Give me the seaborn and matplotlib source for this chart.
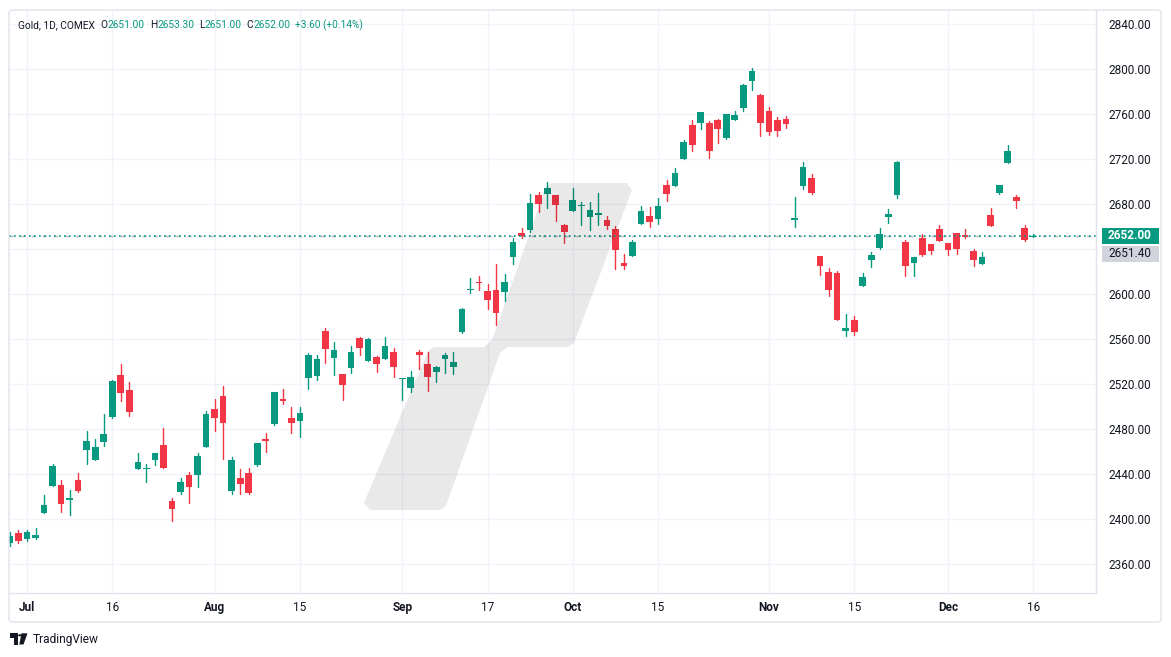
import matplotlib
matplotlib.use("Agg")
import matplotlib.pyplot as plt
import seaborn as sns
import pandas as pd
import numpy as np
from matplotlib.patches import Polygon, Rectangle, FancyBboxPatch, Circle

# ---------------- data ----------------
opens = [2378.9, 2387.8, 2382.5, 2383.4, 2405.9, 2429.9, 2430.5, 2417.4, 2434.9, 2461.9,
         2453.0, 2469.0, 2491.2, 2528.3, 2514.9, 2445.0, 2444.5, 2453.0, 2466.0, 2416.3,
         2424.3, 2439.4, 2439.6, 2464.5, 2498.0, 2509.6, 2425.4, 2436.7, 2441.2, 2448.3,
         2471.4, 2485.0, 2506.9, 2490.0, 2487.6, 2525.9, 2527.6, 2567.4, 2543.6, 2529.2,
         2534.8, 2561.2, 2541.0, 2544.3, 2542.8, 2548.7, 2524.7, 2517.0, 2548.4, 2538.0,
         2531.2, 2542.8, 2535.6, 2566.8, 2604.0, 2610.5, 2602.9, 2603.8, 2602.3, 2633.4,
         2654.5, 2657.2, 2688.3, 2689.4, 2688.3, 2661.6, 2674.3, 2678.2, 2669.0, 2670.8,
         2666.0, 2658.0, 2627.8, 2634.3, 2662.8, 2669.6, 2667.2, 2697.2, 2696.6, 2720.5,
         2750.5, 2752.5, 2752.3, 2754.9, 2739.2, 2755.2, 2765.9, 2789.6, 2777.4, 2762.9,
         2754.9, 2755.8, 2666.3, 2696.5, 2703.4, 2634.0, 2619.8, 2618.9, 2567.6, 2577.2,
         2607.6, 2630.8, 2641.4, 2669.0, 2688.5, 2646.5, 2628.1, 2650.0, 2644.4, 2658.0,
         2645.6, 2654.5, 2652.7, 2638.5, 2627.2, 2670.5, 2690.3, 2717.0, 2686.5, 2658.9,
         2651.0]
highs = [2388.7, 2390.5, 2390.5, 2392.3, 2421.6, 2449.2, 2434.9, 2426.0, 2441.2, 2478.5,
         2471.4, 2493.6, 2523.8, 2538.0, 2521.8, 2458.9, 2449.2, 2458.9, 2481.2, 2419.2,
         2437.0, 2442.0, 2458.9, 2496.3, 2506.9, 2518.5, 2455.4, 2444.7, 2445.6, 2467.8,
         2476.7, 2513.2, 2515.8, 2499.8, 2499.8, 2547.8, 2546.0, 2570.0, 2557.6, 2529.2,
         2554.0, 2562.0, 2561.2, 2545.2, 2562.0, 2552.3, 2525.6, 2531.8, 2550.5, 2548.4,
         2536.3, 2547.8, 2548.7, 2587.8, 2614.5, 2616.3, 2609.2, 2626.9, 2618.0, 2650.3,
         2658.9, 2689.2, 2691.0, 2699.8, 2688.3, 2662.5, 2694.5, 2682.0, 2682.0, 2690.1,
         2669.6, 2660.7, 2636.1, 2648.3, 2678.8, 2677.9, 2685.9, 2701.6, 2712.3, 2737.2,
         2754.9, 2762.0, 2754.0, 2755.8, 2760.3, 2762.9, 2786.9, 2801.2, 2778.3, 2766.5,
         2757.6, 2758.5, 2686.5, 2717.6, 2706.9, 2634.0, 2623.4, 2620.7, 2582.5, 2581.0,
         2618.9, 2637.6, 2658.9, 2675.8, 2718.5, 2648.3, 2633.2, 2653.6, 2644.4, 2661.6,
         2645.6, 2654.5, 2658.0, 2640.5, 2637.6, 2676.7, 2697.2, 2732.7, 2688.3, 2661.6,
         2653.3]
lows = [2376.0, 2378.9, 2380.7, 2382.5, 2405.9, 2429.9, 2406.5, 2404.1, 2424.5, 2449.4,
        2453.0, 2465.4, 2490.3, 2505.4, 2492.1, 2445.0, 2433.4, 2448.5, 2445.9, 2398.8,
        2422.8, 2414.8, 2429.0, 2464.5, 2478.8, 2453.9, 2422.8, 2422.8, 2422.8, 2447.4,
        2460.1, 2483.8, 2502.5, 2477.0, 2473.4, 2516.1, 2524.1, 2539.2, 2528.5, 2506.3,
        2530.3, 2546.3, 2541.0, 2531.2, 2542.8, 2526.8, 2506.0, 2513.4, 2533.9, 2514.3,
        2522.3, 2530.3, 2529.4, 2565.9, 2601.4, 2604.1, 2587.2, 2573.0, 2594.3, 2627.2,
        2650.3, 2655.4, 2673.4, 2677.0, 2665.4, 2645.9, 2674.3, 2661.9, 2657.2, 2661.9,
        2658.0, 2622.8, 2622.8, 2634.3, 2662.8, 2660.1, 2662.8, 2683.2, 2696.6, 2720.5,
        2727.6, 2747.2, 2721.4, 2734.7, 2737.8, 2755.2, 2763.2, 2781.6, 2741.0, 2741.6,
        2740.7, 2747.8, 2660.1, 2693.9, 2689.4, 2617.4, 2598.8, 2577.4, 2563.2, 2564.1,
        2607.6, 2624.5, 2640.5, 2663.6, 2685.9, 2616.5, 2616.5, 2634.3, 2636.1, 2647.6,
        2635.2, 2636.1, 2650.3, 2625.4, 2627.2, 2661.0, 2689.4, 2717.0, 2677.0, 2647.6,
        2651.0]
closes = [2385.2, 2380.7, 2388.7, 2386.0, 2412.7, 2447.4, 2413.9, 2418.9, 2425.4, 2469.6,
          2464.3, 2475.8, 2522.9, 2512.0, 2495.6, 2450.9, 2445.5, 2458.9, 2445.9, 2409.4,
          2433.2, 2429.0, 2456.3, 2493.6, 2490.3, 2485.9, 2452.7, 2431.6, 2423.6, 2467.8,
          2469.9, 2513.2, 2504.9, 2485.9, 2494.5, 2546.0, 2542.5, 2551.6, 2550.5, 2519.6,
          2548.7, 2552.5, 2560.3, 2538.3, 2554.0, 2535.6, 2525.6, 2526.5, 2546.3, 2526.2,
          2535.4, 2546.0, 2539.8, 2586.9, 2605.0, 2609.8, 2595.2, 2583.6, 2610.9, 2646.5,
          2652.1, 2681.2, 2680.5, 2694.5, 2679.6, 2655.6, 2683.8, 2679.4, 2674.9, 2672.3,
          2661.0, 2639.6, 2625.4, 2646.5, 2674.0, 2664.5, 2678.5, 2689.4, 2707.8, 2735.4,
          2733.0, 2762.0, 2727.6, 2747.2, 2760.3, 2759.4, 2786.0, 2798.5, 2752.5, 2744.5,
          2745.2, 2751.4, 2667.8, 2713.2, 2690.3, 2625.4, 2604.1, 2577.4, 2570.0, 2566.8,
          2615.4, 2634.9, 2653.6, 2671.4, 2717.6, 2625.4, 2633.2, 2635.2, 2638.8, 2647.6,
          2639.6, 2640.5, 2651.0, 2630.8, 2633.2, 2661.0, 2697.2, 2727.4, 2683.2, 2648.4,
          2652.0]

first_day, last_day = "2024-06-27", "2024-12-16"
holidays = ["2024-07-04", "2024-09-02"]
tick_dates = ["2024-07-01", "2024-07-16", "2024-08-01", "2024-08-15", "2024-09-03", "2024-09-17",
              "2024-10-01", "2024-10-15", "2024-11-01", "2024-11-15", "2024-12-02", "2024-12-16"]
tick_labels = ["Jul", "16", "Aug", "15", "Sep", "17", "Oct", "15", "Nov", "15", "Dec", "16"]
month_labels = {"Jul", "Aug", "Sep", "Oct", "Nov", "Dec"}
y_ticks = [2360, 2400, 2440, 2480, 2520, 2560, 2600, 2640, 2680, 2720, 2760, 2800, 2840]
hidden_y_ticks = [2640]
last_price = 2652.00
ref_price = 2651.40
header_name = "Gold, 1D, COMEX"
header_ohlc = [("O", "2651.00"), ("H", "2653.30"), ("L", "2651.00"), ("C", "2652.00")]
header_change = "+3.60 (+0.14%)"

# ---------------- style ----------------
UP, DOWN = "#089981", "#F23645"
TXT = "#131722"
GRID = "#f0f3fa"
BORDER = "#e0e3eb"
W, H = 1171, 657

sns.set_theme(style="white")
plt.rcParams["font.family"] = ["Roboto", "DejaVu Sans"]

dates = pd.bdate_range(first_day, last_day)
dates = dates[~dates.isin(pd.to_datetime(holidays))]
df = pd.DataFrame({"date": dates, "open": opens, "high": highs, "low": lows, "close": closes})
df["i"] = np.arange(len(df))
df["dir"] = np.where(df["close"] >= df["open"], "up", "down")

fig = plt.figure(figsize=(W / 100, H / 100), dpi=100)
fig.patch.set_facecolor("white")

def fx(x):
    return x / W

def fy(y):
    return 1 - y / H

ax_l, ax_r, ax_t, ax_b = 9, 1096, 10, 593
ax = fig.add_axes([fx(ax_l), fy(ax_b), (ax_r - ax_l) / W, (ax_b - ax_t) / H])
ax.set_facecolor("white")

# y scale: 2400 at pixel 519.3, 1.125 px per unit
def price_at(ypix):
    return 2400 + (519.3 - ypix) / 1.125

ax.set_ylim(price_at(ax_b), price_at(ax_t))
# x scale: bar 0 at pixel 9.94, 8.528 px per bar
x0, dx = 9.94, 8.528
ax.set_xlim((ax_l - x0) / dx, (ax_r - x0) / dx)

# grid
tick_idx = [int(np.where(df["date"] == pd.Timestamp(d))[0][0]) for d in tick_dates]
for t in tick_idx:
    ax.axvline(t, color=GRID, lw=1, zorder=0)
for yv in y_ticks:
    ax.axhline(yv, color=GRID, lw=1, zorder=0)

# wicks via seaborn
wick = pd.concat([df[["i", "dir"]].assign(price=df["low"]),
                  df[["i", "dir"]].assign(price=df["high"])]).sort_values("i")
sns.lineplot(data=wick, x="i", y="price", units="i", estimator=None, hue="dir",
             palette={"up": UP, "down": DOWN}, linewidth=1.0, legend=False, ax=ax, zorder=2)

# bodies
min_h = 1.0 / 1.125
body_bottom = np.minimum(df["open"], df["close"])
body_h = np.maximum(np.abs(df["close"] - df["open"]), min_h)
ax.bar(df["i"], body_h, bottom=body_bottom, width=0.78,
       color=[UP if d == "up" else DOWN for d in df["dir"]], linewidth=0, zorder=3)

# price lines
ax.axhline(ref_price, color="#b2b5be", lw=1, ls=(0, (3, 5)), zorder=1)
ax.axhline(last_price, color=UP, lw=1.2, ls=(0, (1, 2)), zorder=4)

# axes styling
ax.yaxis.tick_right()
ax.set_yticks(y_ticks)
ax.set_yticklabels(["" if v in hidden_y_ticks else f"{v:.2f}" for v in y_ticks],
                   fontsize=8.5, color=TXT)
ax.set_xticks(tick_idx)
ax.set_xticklabels(tick_labels, fontsize=8.5, color=TXT)
for lab in ax.get_xticklabels():
    if lab.get_text() in month_labels:
        lab.set_fontweight("bold")
ax.tick_params(axis="y", length=0, pad=9)
ax.tick_params(axis="x", length=0, pad=6)
ax.set_xlabel("")
ax.set_ylabel("")
for s in ["left", "top"]:
    ax.spines[s].set_visible(False)
for s in ["right", "bottom"]:
    ax.spines[s].set_color(BORDER)
    ax.spines[s].set_linewidth(1)

# outer frame
fig.patches.append(FancyBboxPatch((fx(9), fy(622)), fx(1161) - fx(9), fy(10) - fy(622),
                                  boxstyle="round,pad=0,rounding_size=0.004",
                                  transform=fig.transFigure, fill=False,
                                  edgecolor=BORDER, lw=1, zorder=0))

# watermark (decorative)
wm = [(370, 510), (440, 510), (446, 506), (500, 353), (508, 347), (568, 347), (574, 343),
      (632, 190), (627, 183), (552, 183), (546, 187), (492, 340), (484, 347), (434, 347),
      (428, 351), (364, 503)]
fig.patches.append(Polygon([(fx(a), fy(b)) for a, b in wm], closed=True,
                           transform=fig.transFigure, facecolor="black", alpha=0.085,
                           edgecolor="none", zorder=5))

# price labels on the axis
fig.canvas.draw()
ypix_last = H - ax.transData.transform((0, last_price))[1]
bw_l, bw_r = 1101.5, 1158.5
fig.patches.append(Rectangle((fx(bw_l), fy(ypix_last + 8)), fx(bw_r) - fx(bw_l), 16 / H,
                             transform=fig.transFigure, facecolor=UP, edgecolor="none", zorder=6))
fig.text(fx((bw_l + bw_r) / 2), fy(ypix_last), f"{last_price:.2f}", color="white",
         fontsize=8.5, fontweight="bold", ha="center", va="center", zorder=7)
yg = ypix_last + 18
fig.patches.append(Rectangle((fx(bw_l), fy(yg + 8)), fx(bw_r) - fx(bw_l), 16 / H,
                             transform=fig.transFigure, facecolor="#d1d4dc", edgecolor="none", zorder=6))
fig.text(fx((bw_l + bw_r) / 2), fy(yg), f"{ref_price:.2f}", color=TXT,
         fontsize=8.5, ha="center", va="center", zorder=7)

# header legend
renderer = fig.canvas.get_renderer()
pieces = [(header_name, TXT, 6)]
for k, v in header_ohlc:
    pieces.append((k, TXT, 0))
    pieces.append((v, UP, 5))
pieces.append((header_change, UP, 0))
xcur = 18
for s, col, gap in pieces:
    t = fig.text(fx(xcur), fy(25), s, color=col, fontsize=7.3, ha="left", va="center", zorder=8)
    bb = t.get_window_extent(renderer)
    xcur = bb.x1 + gap

# TradingView logo (bottom-left)
logo = [Rectangle((fx(10), fy(637.7)), fx(18.3) - fx(10), 4.4 / H),
        Rectangle((fx(14), fy(644.5)), fx(18.3) - fx(14), 11.2 / H),
        Polygon([(fx(21.5), fy(633.3)), (fx(27.5), fy(633.3)), (fx(23.5), fy(644.5)),
                 (fx(19.3), fy(644.5))], closed=True)]
for p in logo:
    p.set_transform(fig.transFigure)
    p.set_facecolor(TXT)
    p.set_edgecolor("none")
    fig.patches.append(p)
fig.patches.append(Circle((fx(20.0), fy(635.3)), 1.9 / W, transform=fig.transFigure,
                          facecolor=TXT, edgecolor="none"))
fig.text(fx(32.5), fy(639.5), "TradingView", color=TXT, fontsize=8.6, ha="left", va="center")

fig.savefig("out.png", dpi=100, facecolor="white")
